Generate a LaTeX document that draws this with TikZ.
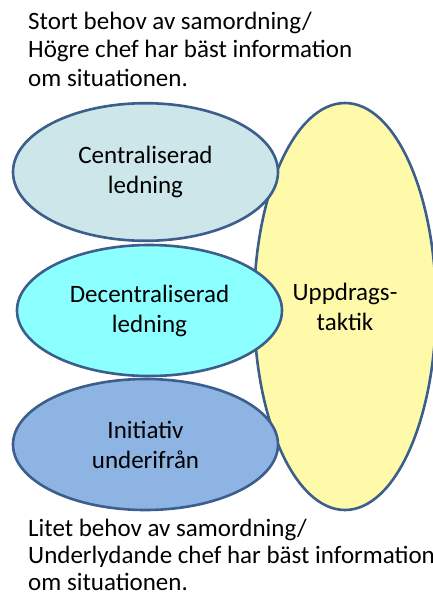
\documentclass[tikz,border=0pt]{standalone}
\usepackage{fontspec}
\setmainfont{Carlito}
\usetikzlibrary{shapes.geometric}
\definecolor{edgeblue}{RGB}{59,94,140}
\definecolor{fillTop}{RGB}{205,230,234}
\definecolor{fillMid}{RGB}{140,255,255}
\definecolor{fillLow}{RGB}{142,180,227}
\definecolor{fillYel}{RGB}{255,250,170}
\begin{document}
\begin{tikzpicture}[x=1pt,y=-1pt,
  blob/.style={ellipse, draw=edgeblue, line width=2.6pt, inner sep=0pt,
    align=center, text=black, font=\fontsize{25}{30}\selectfont},
  caption/.style={anchor=north west, inner sep=0pt, align=left}]
\useasboundingbox (0,0) rectangle (433,597);
\clip (0,0) rectangle (433,597);

% captions above and below
\node[caption, font=\fontsize{25}{28.7}\selectfont] (high) at (28,11.6)
  {Stort behov av samordning/\\Högre chef har bäst information\\om situationen.};
\node[caption, font=\fontsize{25}{26.8}\selectfont] (low) at (28,519)
  {Litet behov av samordning/\\Underlydande chef har bäst information\\om situationen.};

% mission command ellipse behind the three others
\node[blob, fill=fillYel, minimum width=182pt, minimum height=407pt] (upp) at (345,306.5) {Uppdrags-\\taktik};

% the three forms of command
\node[blob, fill=fillLow, minimum width=265pt, minimum height=131pt] (ini) at (145.5,444.5) {Initiativ\\underifrån};
\node[blob, fill=fillMid, minimum width=265pt, minimum height=131pt] (dec) at (149.5,310.5) {Decentraliserad\\ledning};
\node[blob, fill=fillTop, minimum width=265pt, minimum height=137.6pt] (cen) at (145.5,172) {Centraliserad\\ledning};
\end{tikzpicture}
\end{document}
